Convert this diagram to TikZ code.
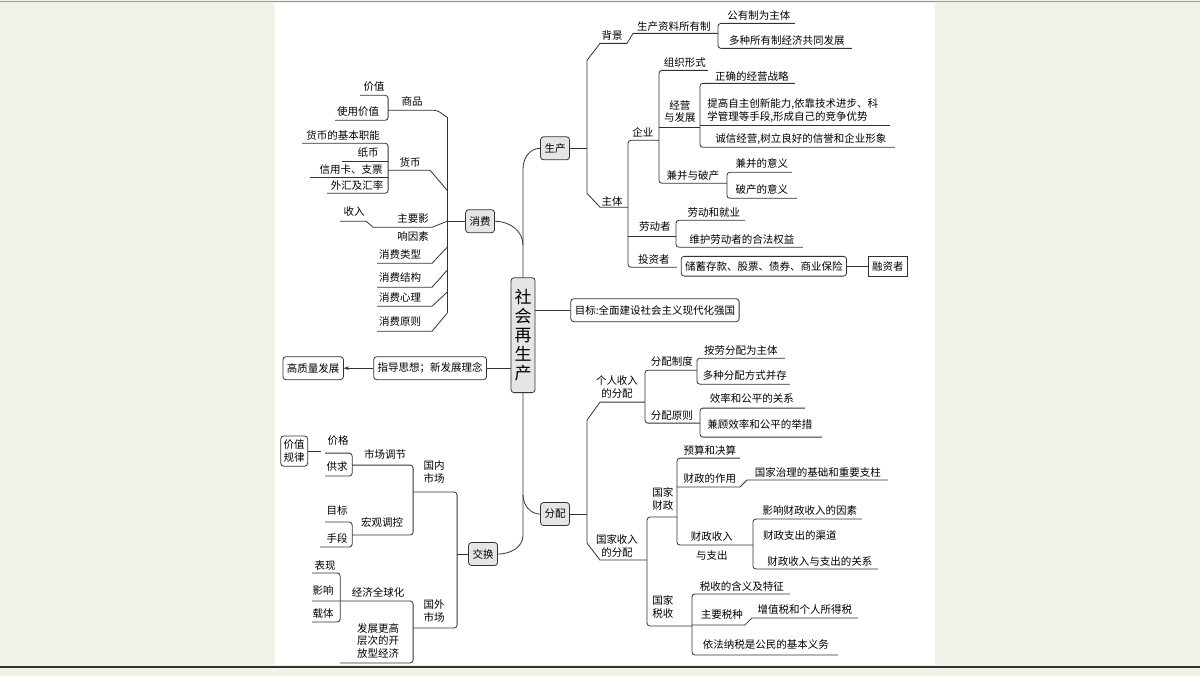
\documentclass[tikz,border=0pt]{standalone}
\usepackage{fontspec}
\setmainfont{Noto Sans CJK SC}
\usetikzlibrary{arrows.meta}
\begin{document}
\begin{tikzpicture}[x=1pt,y=-1pt,
  t/.style={font=\fontsize{10.5}{12.5}\selectfont,inner sep=0pt,align=center},
  bx/.style={t,draw,rounded corners=3pt,inner xsep=4pt,inner ysep=4pt},
  gb/.style={bx,fill=black!10,minimum height=23pt},
  rc/.style={rounded corners=3pt},
  every path/.style={line width=0.8pt,draw=black!80}]
\useasboundingbox (0,0) rectangle (1200,675);
\fill[color={rgb,255:red,239;green,243;blue,232}] (0,0) rectangle (1200,675);
\fill[white] (275,3) rectangle (935,664);
\draw[black!40,line width=1.5pt] (0,1) -- (1200,1);
\draw[black!80,line width=1.5pt] (0,667) -- (1200,667);

% center
\node[gb,font=\fontsize{17}{19}\selectfont,minimum width=24pt,minimum height=115pt,inner xsep=2pt] (c) at (523,335) {社\\会\\再\\生\\产};
\node[gb] (sc) at (555,148) {生产};
\node[gb] (xf) at (480,221) {消费};
\node[gb] (fp) at (555,514) {分配};
\node[gb] (jh) at (483,554) {交换};
\node[bx,minimum height=23pt] (mb) at (655,310) {目标:全面建设社会主义现代化强国};
\node[bx,minimum height=23pt] (zd) at (430,368) {指导思想；新发展理念};
\node[bx,minimum height=23pt] (gz) at (313,368) {高质量发展};

\begin{scope}[on background layer/.try]
\end{scope}
\draw (sc.west) to[out=180,in=90] (523,168) -- (c.north);
\draw (c.south) -- (523,495) to[out=-90,in=180] (fp.west);
\draw (523,495) -- (523,535) to[out=-90,in=0] (jh.east);
\draw (xf.east) to[out=0,in=90] (523,245);
\draw (c.east|-mb.west) -- (mb.west);
\draw (c.west|-zd.east) -- (zd.east);
\draw[-{Stealth[length=5pt]}] (zd.west) -- (gz.east);

% ---------- 生产
\draw (sc.east) -- (587,148);
\draw (627,43) -- (600,43) -- (587,60) -- (587,193) -- (600,207) -- (628,207);
\node[t] (bj) at (612,35) {背景};
\draw (627,43) -- (633,33) -- (718,33);
\node[t] (zl) at (674,26) {生产资料所有制};
\draw[rc] (795,23) -- (718,23) -- (718,48) -- (852,48);
\node[t] (gy) at (759,15) {公有制为主体};
\node[t] (dz) at (787,40) {多种所有制经济共同发展};
\node[t] (zt) at (612,201) {主体};
\draw[rc] (658,140) -- (628,140) -- (628,267) -- (677,267);
\node[t] (qy) at (643,132) {企业};
\draw (628,236) -- (676,236);
\node[t] (ld) at (655,226) {劳动者};
\node[t] (tz) at (654,259) {投资者};
\draw[rc] (708,70) -- (659,70) -- (659,183) -- (727,183);
\draw (658,140) -- (659,140);
\node[t] (zz) at (685,62) {组织形式};
\node[t] (jb) at (693,175) {兼并与破产};
\draw (659,127) -- (700,127);
\node[t] (jy) at (680,111) {经营\\与发展};
\draw[rc] (795,83) -- (700,83) -- (700,147) -- (895,147);
\draw (700,125) -- (890,125);
\node[t] (zq) at (752,76) {正确的经营战略};
\node[t,align=left,anchor=west] (tg) at (707,110) {提高自主创新能力,依靠技术进步、科\\学管理等手段,形成自己的竞争优势};
\node[t] (cx) at (801,139) {诚信经营,树立良好的信誉和企业形象};
\draw[rc] (792,172) -- (727,172) -- (727,198) -- (797,198);
\node[t] (jbyy) at (762,163) {兼并的意义};
\node[t] (pcyy) at (762,189) {破产的意义};
\draw[rc] (745,220) -- (676,220) -- (676,247) -- (803,247);
\node[t] (ldjy) at (714,212) {劳动和就业};
\node[t] (wh) at (742,239) {维护劳动者的合法权益};
\node[bx,inner ysep=5pt] (cx2) at (764,266) {储蓄存款、股票、债券、商业保险};
\node[bx,rounded corners=0pt,inner ysep=5pt] (rz) at (888,266) {融资者};
\draw (cx2.east) -- (rz.west);

% ---------- 消费
\draw (xf.west) -- (447,221);
\draw (447,117) -- (447,313);
\draw[rc] (388,110) -- (437,110) -- (447,117);
\node[t] (sp) at (412,101) {商品};
\draw[rc] (360,95) -- (388,95) -- (388,120) -- (335,120);
\node[t] (jz) at (374,86) {价值};
\node[t] (syjz) at (358,111) {使用价值};
\draw (388,170) -- (430,170) -- (447,190);
\node[t] (hb) at (410,162) {货币};
\draw[rc] (302,143) -- (388,143) -- (388,193) -- (327,193);
\draw (342,161) -- (388,161);
\draw (310,177) -- (388,177);
\node[t] (jbzn) at (343,135) {货币的基本职能};
\node[t] (zb) at (368,152) {纸币};
\node[t] (xyk) at (351,169) {信用卡、支票};
\node[t] (wh2) at (357,185) {外汇及汇率};
\draw (340,221) -- (366,221) -- (373,227) -- (432,227) -- (447,221);
\node[t] (sr) at (354,211) {收入};
\node[t] (zy) at (413,218) {主要影};
\node[t] (zy2) at (413,236) {响因素};
\draw (377,263) -- (432,263) -- (447,247);
\node[t] (lx) at (400,254) {消费类型};
\draw (377,287) -- (432,287) -- (447,270);
\node[t] (jg) at (400,277) {消费结构};
\draw (377,306) -- (432,306) -- (447,292);
\node[t] (xl) at (400,297) {消费心理};
\draw (377,331) -- (432,331) -- (447,313);
\node[t] (yz) at (400,321) {消费原则};

% ---------- 交换
\draw (jh.west) -- (457,554);
\draw[rc] (413,492) -- (457,492) -- (457,628) -- (413,628);
\node[t] (gn) at (434,472) {国内\\市场};
\node[t] (gw) at (434,611) {国外\\市场};
\draw[rc] (352,465) -- (413,465) -- (413,535) -- (352,535);
\node[t] (sctj) at (385,454) {市场调节};
\node[t] (hg) at (382,522) {宏观调控};
\draw[rc] (325,453) -- (352,453) -- (352,476) -- (325,476);
\node[t] (jg2) at (338,440) {价格};
\node[t] (gq) at (337,466) {供求};
\node[bx,inner xsep=3pt] (jzgl) at (294,451) {价值\\规律};
\coordinate (jq) at (321,451);
\draw (jzgl.east) -- (jq);
\draw[rc] (325,522) -- (352,522) -- (352,547) -- (320,547);
\node[t] (mb2) at (337,510) {目标};
\node[t] (sd) at (337,538) {手段};
\draw[rc] (312,601) -- (413,601) -- (413,663) -- (340,663);
\node[t] (jjqq) at (378,592) {经济全球化};
\node[t] (fz) at (378,641) {发展更高\\层次的开\\放型经济};
\draw[rc] (312,573) -- (340,573) -- (340,622) -- (312,622);
\node[t] (bx1) at (325,565) {表现};
\node[t] (yx) at (323,590) {影响};
\node[t] (zt2) at (323,614) {载体};

% ---------- 分配
\draw (fp.east) -- (587,514);
\draw (645,402) -- (600,402) -- (587,420) -- (587,543) -- (600,560) -- (647,560);
\node[t] (gr) at (617,387) {个人收入\\的分配};
\node[t] (gj) at (617,546) {国家收入\\的分配};
\draw[rc] (697,370) -- (645,370) -- (645,423) -- (700,423);
\node[t] (fpzd) at (672,361) {分配制度};
\node[t] (fpyz) at (672,415) {分配原则};
\draw[rc] (785,358) -- (697,358) -- (697,384) -- (790,384);
\node[t] (al) at (741,350) {按劳分配为主体};
\node[t] (dz2) at (745,375) {多种分配方式并存};
\draw[rc] (805,408) -- (700,408) -- (700,437) -- (822,437);
\node[t] (xl2) at (752,398) {效率和公平的关系};
\node[t] (jg3) at (760,424) {兼顾效率和公平的举措};
\draw[rc] (677,517) -- (647,517) -- (647,626) -- (692,626);
\node[t] (gjcz) at (663,499) {国家\\财政};
\node[t] (gjss) at (663,607) {国家\\税收};
\draw[rc] (740,458) -- (677,458) -- (677,545) -- (753,545);
\draw (677,487) -- (740,487) -- (747,480) -- (888,480);
\node[t] (ys) at (710,450) {预算和决算};
\node[t] (czzy) at (710,478) {财政的作用};
\node[t] (gjzl) at (818,472) {国家治理的基础和重要支柱};
\node[t] (czsr) at (712,536) {财政收入};
\node[t] (yzc) at (712,555) {与支出};
\draw[rc] (862,519) -- (753,519) -- (753,569) -- (878,569);
\node[t] (yxcz) at (810,510) {影响财政收入的因素};
\node[t] (qd) at (800,535) {财政支出的渠道};
\node[t] (gx) at (820,561) {财政收入与支出的关系};
\draw[rc] (790,594) -- (692,594) -- (692,655) -- (838,655);
\draw (692,625) -- (745,625) -- (752,618) -- (858,618);
\node[t] (hy) at (742,586) {税收的含义及特征};
\node[t] (zysz) at (722,615) {主要税种};
\node[t] (zzs) at (805,610) {增值税和个人所得税};
\node[t] (yf) at (766,645) {依法纳税是公民的基本义务};
\end{tikzpicture}
\end{document}
